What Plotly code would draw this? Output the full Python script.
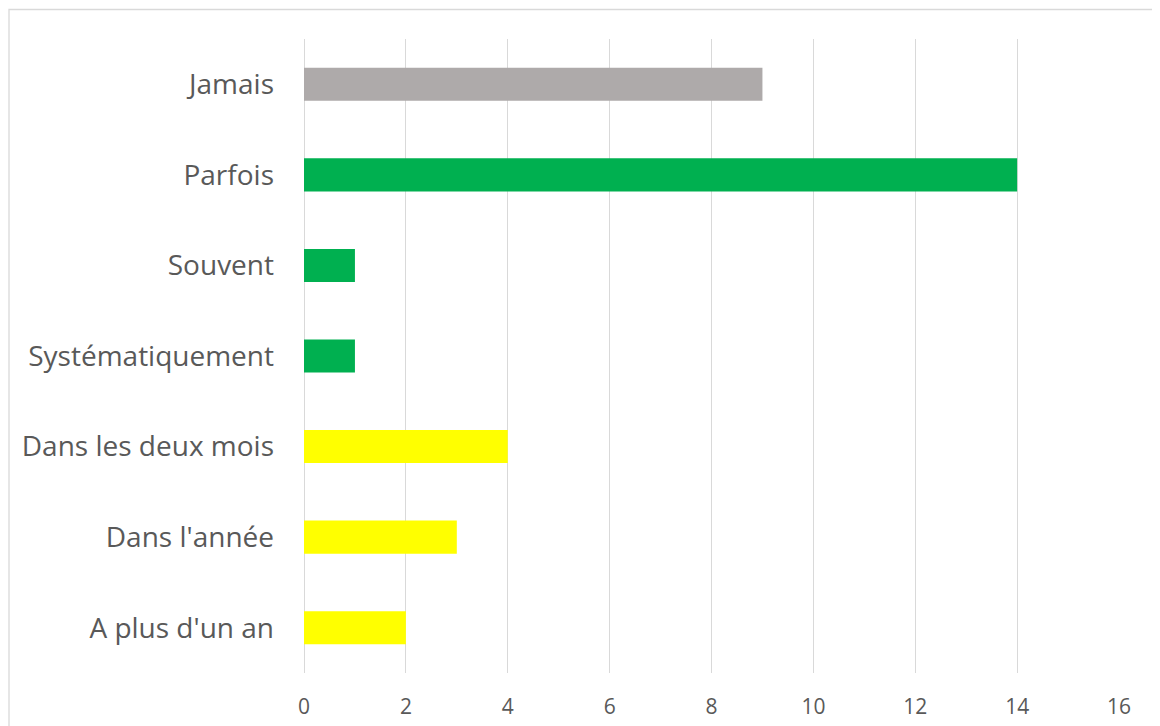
import plotly.graph_objects as go

# categories listed bottom -> top (plotly draws category 0 at the bottom)
categories = ["A plus d'un an", "Dans l'année", "Dans les deux mois",
              "Systématiquement", "Souvent", "Parfois", "Jamais"]
values = [2, 3, 4, 1, 1, 14, 9]
colors = ["#FFFF00", "#FFFF00", "#FFFF00",
          "#00B050", "#00B050", "#00B050", "#AEAAAA"]
x_ticks = [0, 2, 4, 6, 8, 10, 12, 14, 16]

# page body has an 8px margin, so the figure is sized to fit the window
W, H = 1152, 718
ml, mr, mt, mb = 296, 41, 31, 53
pw, ph = W - ml - mr, H - mt - mb

fig = go.Figure(go.Bar(
    x=values, y=categories, orientation="h",
    marker=dict(color=colors, line=dict(width=0)),
    width=0.365, hoverinfo="x+y",
))

# thin light border round the chart area (cropped at right/bottom)
fig.add_shape(type="rect", xref="paper", yref="paper",
              x0=(1 - ml) / pw, x1=(1151 - ml) / pw,
              y0=(H - mb - 760) / ph, y1=(H - mb - 1.5) / ph,
              line=dict(color="#D9D9D9", width=1.3), layer="below")

fig.update_layout(
    width=W, height=H,
    margin=dict(l=ml, r=mr, t=mt, b=mb),
    paper_bgcolor="white", plot_bgcolor="white",
    font=dict(family="Open Sans, Noto Sans, sans-serif", color="#595959"),
    showlegend=False, bargap=0.6,
)
fig.update_xaxes(
    range=[0, 16], tickvals=x_ticks, showgrid=True,
    gridcolor="#D9D9D9", gridwidth=1.3,
    zeroline=True, zerolinecolor="#D9D9D9", zerolinewidth=1.3,
    showline=False, ticks="", tickfont=dict(size=21, color="#595959"),
    ticklabelstandoff=19, automargin=False,
)
fig.update_yaxes(
    categoryorder="array", categoryarray=categories,
    range=[-0.5, 6.5], showgrid=False, zeroline=False, showline=False,
    ticks="", tickfont=dict(size=28, color="#595959"),
    ticklabelstandoff=29, automargin=False,
)

fig.write_html("out.html")
